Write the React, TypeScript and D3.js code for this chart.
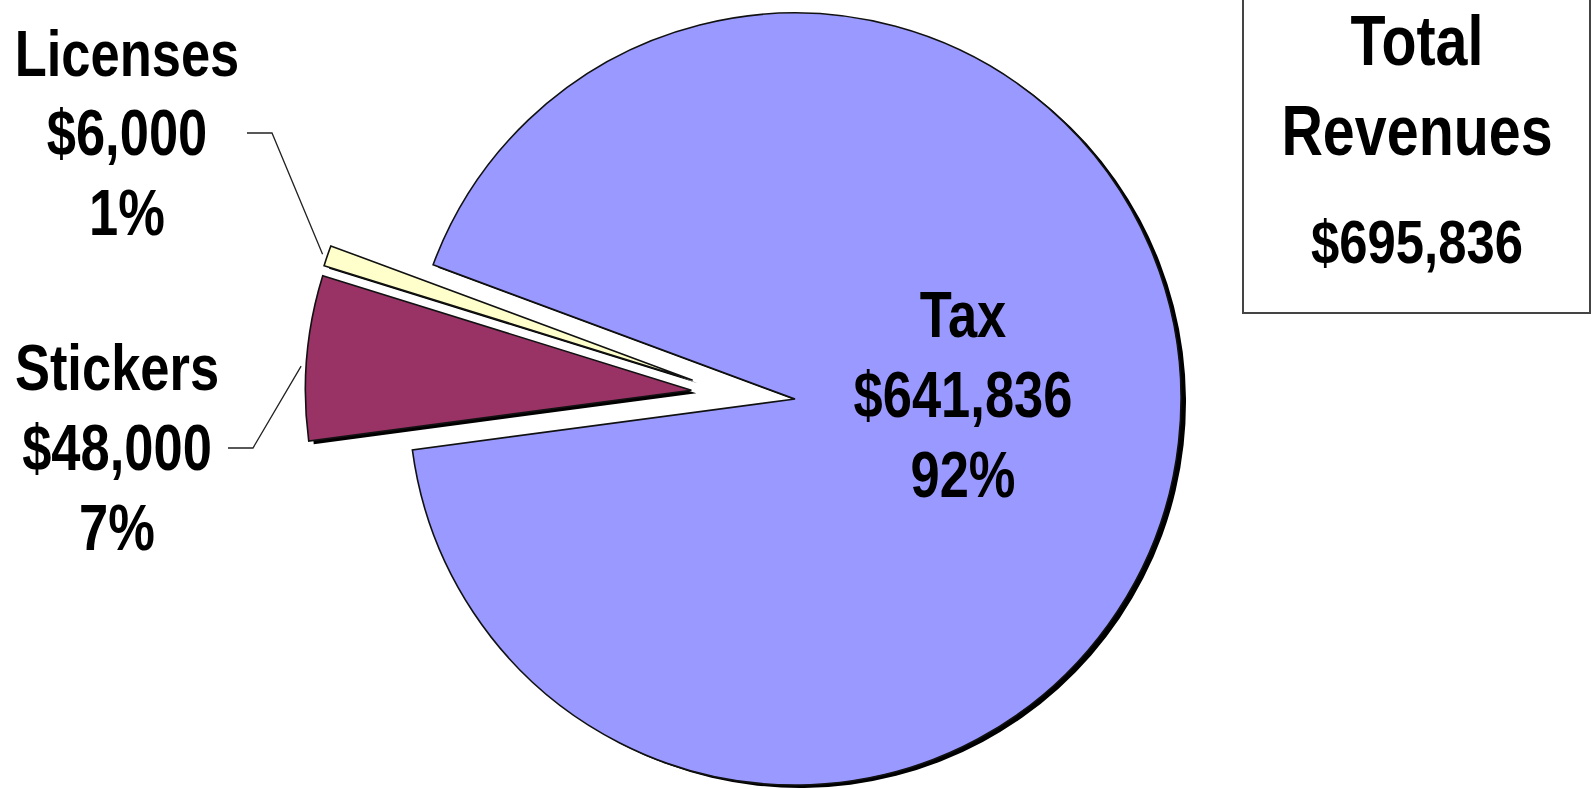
import React, { useEffect } from 'react';
import * as d3 from 'd3';

// ---- data ----
const categories: string[] = ['Tax', 'Stickers', 'Licenses'];
const amounts: number[] = [641836, 48000, 6000];
const percentLabels: string[] = ['92%', '7%', '1%'];
const totalTitle: string[] = ['Total', 'Revenues'];
const totalAmount = 695836;

// ---- style / layout ----
const sliceColors = ['#9999FF', '#993366', '#FFFFCC'];
const explodeDist = [0, 104, 104];
const explodeTurnDeg = [0, 0, -8.4];
const leaderTurnDeg = [0, -1.3, 0];
const W = 1592;
const H = 789;
const CX = 795;
const CY = 399;
const R = 386;
const START_DEG = 290.36;
const SHADOW = { dx: 5, dy: 3 };
const FONT = "'Liberation Sans', Arial, sans-serif";
const NARROW = 0.82;

const labelLayout = [
  { x: 963, ys: [337, 417, 497], leader: null as null | number[][] },
  { x: 117, ys: [390, 470, 550], leader: [[228, 448], [253, 448]] },
  { x: 127, ys: [76, 155, 235], leader: [[247, 133], [272, 133]] },
];
const box = { x: 1243, y: -5, w: 347, h: 318, cx: 1417 };
const boxLines = [
  { size: 70, y: 65 },
  { size: 70, y: 155 },
  { size: 62, y: 263 },
];

const fmt = d3.format('$,');

function NarrowText({ x, y, size, children }: { x: number; y: number; size: number; children: React.ReactNode }) {
  return (
    <text
      transform={`translate(${x},${y}) scale(${NARROW},1)`}
      textAnchor="middle"
      fontFamily={FONT}
      fontWeight="bold"
      fontSize={size}
      fill="#000"
    >
      {children}
    </text>
  );
}

export default function App() {
  useEffect(() => {
    document.body.style.margin = '0';
    document.body.style.overflow = 'hidden';
  }, []);

  const a0 = (START_DEG * Math.PI) / 180;
  const pie = d3.pie<number>().sort(null).startAngle(a0).endAngle(a0 + 2 * Math.PI);
  const arcs = pie(amounts);
  const arcGen = d3.arc<d3.PieArcDatum<number>>().innerRadius(0).outerRadius(R);

  const slices = arcs.map((a, i) => {
    const mid = (a.startAngle + a.endAngle) / 2;
    const dir = mid + (explodeTurnDeg[i] * Math.PI) / 180;
    const ox = CX + Math.sin(dir) * explodeDist[i];
    const oy = CY - Math.cos(dir) * explodeDist[i];
    const la = mid + (leaderTurnDeg[i] * Math.PI) / 180;
    const tip = [ox + Math.sin(la) * (R + 5), oy - Math.cos(la) * (R + 5)];
    return { a, i, ox, oy, d: arcGen(a) as string, tip };
  });

  return (
    <svg width={W} height={H} style={{ position: 'absolute', left: 0, top: 0, background: '#fff' }}>
      <rect x={0} y={0} width={W} height={H} fill="#fff" />
      {/* shadows */}
      {slices.map((s) => (
        <path
          key={'sh' + s.i}
          d={s.d}
          transform={`translate(${s.ox + SHADOW.dx},${s.oy + SHADOW.dy})`}
          fill="#000"
        />
      ))}
      {/* slices */}
      {slices.map((s) => (
        <path
          key={'sl' + s.i}
          d={s.d}
          transform={`translate(${s.ox},${s.oy})`}
          fill={sliceColors[s.i]}
          stroke="#111"
          strokeWidth={1.6}
          strokeLinejoin="miter"
        />
      ))}
      {/* leader lines */}
      {slices.map((s) => {
        const L = labelLayout[s.i].leader;
        if (!L) return null;
        const pts = [...L, s.tip];
        return (
          <polyline
            key={'ld' + s.i}
            points={pts.map((p) => p.join(',')).join(' ')}
            fill="none"
            stroke="#222"
            strokeWidth={1.3}
          />
        );
      })}
      {/* labels */}
      {categories.map((c, i) => {
        const L = labelLayout[i];
        const lines = [c, fmt(amounts[i]), percentLabels[i]];
        return (
          <g key={'lb' + i}>
            {lines.map((t, j) => (
              <NarrowText key={j} x={L.x} y={L.ys[j]} size={64}>
                {t}
              </NarrowText>
            ))}
          </g>
        );
      })}
      {/* total box */}
      <rect x={box.x} y={box.y} width={box.w} height={box.h} fill="#fff" stroke="#444" strokeWidth={2} />
      {[...totalTitle, fmt(totalAmount)].map((t, j) => (
        <NarrowText key={'bx' + j} x={box.cx} y={boxLines[j].y} size={boxLines[j].size}>
          {t}
        </NarrowText>
      ))}
    </svg>
  );
}
